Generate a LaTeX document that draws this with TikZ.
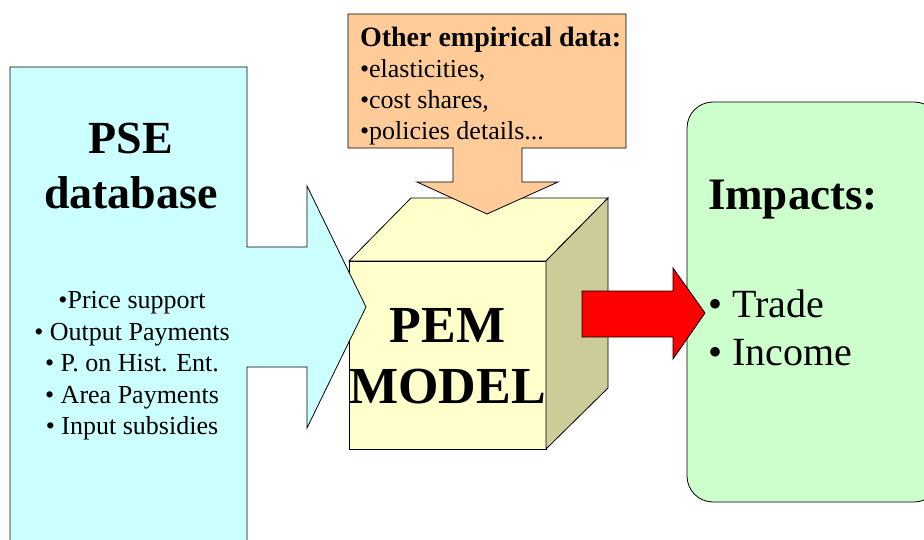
\documentclass[tikz,border=0pt]{standalone}
\usepackage{fontspec}
\setmainfont{Liberation Serif}
\definecolor{pseblue}{HTML}{CCFFFF}
\definecolor{dataorange}{HTML}{FFCC99}
\definecolor{cubefront}{HTML}{FFFFCC}
\definecolor{cubeside}{HTML}{CCCC99}
\definecolor{impactgreen}{HTML}{CCFFCC}
\definecolor{flowred}{HTML}{FF0000}
\begin{document}
\begin{tikzpicture}[x=1pt,y=-1pt,
  outline/.style={draw=black,line width=0.8pt,line join=miter},
  txt/.style={inner sep=0pt,outer sep=0pt},
  bigbold/.style={txt,font=\fontsize{46}{55}\selectfont\bfseries},
  listtxt/.style={txt,font=\fontsize{26}{31}\selectfont},
  cubetxt/.style={txt,font=\fontsize{52}{61}\selectfont\bfseries},
  impacttxt/.style={txt,font=\fontsize{40}{48}\selectfont}]
\useasboundingbox (0,0) rectangle (924,540);
\clip (0,0) rectangle (924,540);

% PEM model cube
\filldraw[outline,fill=cubefront] (349,261) rectangle (546,449);
\filldraw[outline,fill=cubefront] (349,261) -- (411,198) -- (608,198) -- (546,261) -- cycle;
\filldraw[outline,fill=cubeside] (546,261) -- (608,198) -- (608,388) -- (546,449) -- cycle;

% PSE database callout pointing right into the cube
\filldraw[outline,fill=pseblue] (10,67) -- (247,67) -- (247,247) -- (307,247) -- (307,186)
  -- (366,307) -- (307,428) -- (307,367) -- (247,367) -- (247,560) -- (10,560) -- cycle;

% Other empirical data callout pointing down onto the cube
\filldraw[outline,fill=dataorange] (348,14) -- (626,14) -- (626,148) -- (522,148) -- (522,182)
  -- (558,182) -- (487,214) -- (417,182) -- (453,182) -- (453,148) -- (348,148) -- cycle;

% Impacts panel
\filldraw[outline,fill=impactgreen,rounded corners=26pt] (687,102) rectangle (940,502);

% Output arrow from the cube to the impacts
\filldraw[outline,fill=flowred] (582,291) -- (673,291) -- (673,268) -- (705,313)
  -- (673,359) -- (673,337) -- (582,337) -- cycle;

% Texts of the PSE callout
\node[bigbold,anchor=base] (pse) at (131,154) {PSE};
\node[bigbold,anchor=base] (db) at (131,209) {database};
\node[listtxt,anchor=base] (l1) at (132,308) {•Price support};
\node[listtxt,anchor=base] (l2) at (132,340) {• Output Payments};
\node[listtxt,anchor=base] (l3) at (132,371.5) {• P. on Hist. Ent.};
\node[listtxt,anchor=base] (l4) at (132,403) {• Area Payments};
\node[listtxt,anchor=base] (l5) at (132,434.5) {• Input subsidies};

% Texts of the data callout
\node[txt,font=\fontsize{28}{31}\selectfont\bfseries,anchor=base west] (od) at (360,47) {Other empirical data:};
\node[listtxt,anchor=base west] (o1) at (360,78) {•elasticities,};
\node[listtxt,anchor=base west] (o2) at (360,109) {•cost shares,};
\node[listtxt,anchor=base west] (o3) at (360,140) {•policies details...};

% Cube label
\node[cubetxt,anchor=base] (pem) at (447.5,342) {PEM};
\node[cubetxt,anchor=base] (model) at (447.5,403) {MODEL};

% Impacts texts
\node[txt,font=\fontsize{45}{50}\selectfont\bfseries,anchor=base west] (imp) at (708,210) {Impacts:};
\node[impacttxt,anchor=base west] (tr) at (708,317) {• Trade};
\node[impacttxt,anchor=base west] (inc) at (708,365) {• Income};
\end{tikzpicture}
\end{document}
